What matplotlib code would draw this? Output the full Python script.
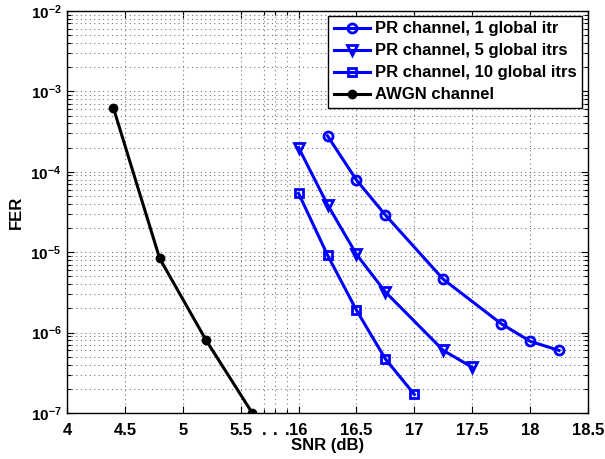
import matplotlib
matplotlib.use("Agg")
import matplotlib.pyplot as plt
from matplotlib.ticker import FixedLocator, FixedFormatter
import numpy as np

plt.rcParams['font.family'] = ['Liberation Sans', 'DejaVu Sans']
plt.rcParams['font.weight'] = 'bold'
plt.rcParams['mathtext.fontset'] = 'custom'
plt.rcParams['mathtext.rm'] = 'Liberation Sans:bold'
plt.rcParams['mathtext.bf'] = 'Liberation Sans:bold'
plt.rcParams['mathtext.it'] = 'Liberation Sans:bold'

# Data (SNR in dB, FER)
awgn_snr = [4.4, 4.8, 5.2, 5.6]
awgn_fer = [6.3e-4, 8.4e-6, 8.1e-7, 1.0e-7]

pr1_snr = [16.25, 16.5, 16.75, 17.25, 17.75, 18.0, 18.25]
pr1_fer = [2.8e-4, 7.9e-5, 2.9e-5, 4.6e-6, 1.29e-6, 7.8e-7, 6.0e-7]

pr5_snr = [16.0, 16.25, 16.5, 16.75, 17.25, 17.5]
pr5_fer = [2.0e-4, 3.9e-5, 9.4e-6, 3.2e-6, 6.0e-7, 3.7e-7]

pr10_snr = [16.0, 16.25, 16.5, 16.75, 17.0]
pr10_fer = [5.4e-5, 9.2e-6, 1.9e-6, 4.7e-7, 1.7e-7]

labels = ['PR channel, 1 global itr', 'PR channel, 5 global itrs',
          'PR channel, 10 global itrs', 'AWGN channel']

x_ticks_real = [4, 4.5, 5, 5.5, 16, 16.5, 17, 17.5, 18, 18.5]
x_tick_labels = ['4', '4.5', '5', '5.5', '16', '16.5', '17', '17.5', '18', '18.5']
break_ticks = [5.7, 5.8, 5.9]
break_labels = ['.', '.', '.']
BREAK_SHIFT = 10.0  # PR-channel SNRs are drawn shifted left by this amount


def to_axis(v):
    v = np.asarray(v, dtype=float)
    return np.where(v >= 10, v - BREAK_SHIFT, v)


fig = plt.figure(figsize=(6.05, 4.59), dpi=100)
ax = fig.add_axes([0.1107, 0.1002, 0.8613, 0.8758])

blue = '#0000FF'
lw = 2.2
ax.plot(to_axis(pr1_snr), pr1_fer, '-o', color=blue, lw=lw, ms=6.5, mew=2,
        mfc='none', label=labels[0])
ax.plot(to_axis(pr5_snr), pr5_fer, '-v', color=blue, lw=lw, ms=7.5, mew=2,
        mfc='none', label=labels[1])
ax.plot(to_axis(pr10_snr), pr10_fer, '-s', color=blue, lw=lw, ms=5.5, mew=2,
        mfc='none', label=labels[2])
ax.plot(to_axis(awgn_snr), awgn_fer, '-o', color='black', lw=lw, ms=6,
        mfc='black', label=labels[3])

ax.set_yscale('log')
ax.set_xlim(4, 8.5)
ax.set_ylim(1e-7, 1e-2)

ax.set_xticks(to_axis(x_ticks_real))
ax.set_xticklabels(x_tick_labels)
ax.xaxis.set_minor_locator(FixedLocator(break_ticks))
ax.xaxis.set_minor_formatter(FixedFormatter(break_labels))

yt = [1e-7, 1e-6, 1e-5, 1e-4, 1e-3, 1e-2]
ax.set_yticks(yt)
ax.set_yticklabels([r'$\mathbf{10^{%d}}$' % int(np.log10(v)) for v in yt])

ax.tick_params(which='both', direction='in', top=True, right=True,
               width=0.8)
ax.tick_params(axis='x', which='both', labelsize=12, pad=7)
ax.tick_params(axis='y', which='both', labelsize=11, pad=4)
ax.tick_params(which='major', length=5)
ax.tick_params(which='minor', length=3)

gkw = dict(linestyle=(0, (1, 3)), color='#777777', lw=0.8)
ax.grid(True, which='major', **gkw)
ax.grid(True, which='minor', **gkw)

for s in ax.spines.values():
    s.set_linewidth(1.0)

ax.set_xlabel('SNR (dB)', fontsize=12, fontweight='bold', labelpad=0)
ax.set_ylabel('FER', fontsize=12, fontweight='bold')
ax.yaxis.set_label_coords(-0.083, 0.5)

leg = ax.legend(loc='upper right', bbox_to_anchor=(0.995, 0.997),
                fontsize=12, frameon=True, fancybox=False, edgecolor='black',
                framealpha=1, handlelength=2.2, borderpad=0.35,
                labelspacing=0.42, handletextpad=0.25, borderaxespad=0.2)
leg.get_frame().set_linewidth(1.0)

fig.savefig('out.png', dpi=100)
